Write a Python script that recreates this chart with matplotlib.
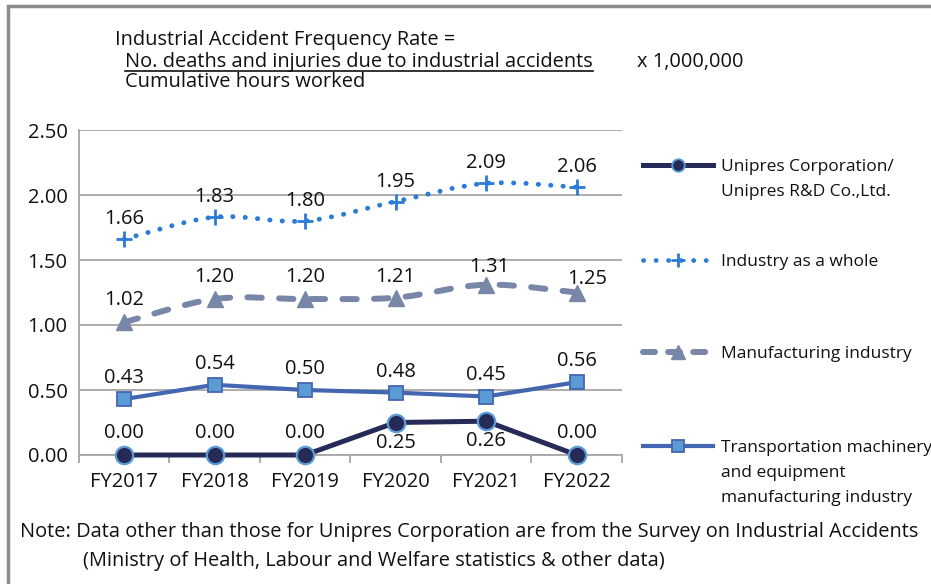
import numpy as np
import matplotlib
matplotlib.use("Agg")
import matplotlib.pyplot as plt
from matplotlib.lines import Line2D
from matplotlib.patches import PathPatch, Rectangle
from matplotlib.path import Path

plt.rcParams['font.family'] = ['Open Sans', 'DejaVu Sans']

# Data
years = ['FY2017', 'FY2018', 'FY2019', 'FY2020', 'FY2021', 'FY2022']
unipres = [0.00, 0.00, 0.00, 0.25, 0.26, 0.00]
industry = [1.66, 1.83, 1.80, 1.95, 2.09, 2.06]
manufacturing = [1.02, 1.20, 1.20, 1.21, 1.31, 1.25]
transport = [0.43, 0.54, 0.50, 0.48, 0.45, 0.56]

W, H = 931, 584
fig = plt.figure(figsize=(W / 100, H / 100), dpi=100)


def px(x, y):
    # pixel position (top-left origin) -> figure fraction
    return x / W, 1 - y / H


def smooth_path(xs, ys):
    # Excel-like smoothed line: cubic bezier through the points
    pts = np.column_stack([xs, ys]).astype(float)
    n = len(pts)
    verts = [pts[0]]
    codes = [Path.MOVETO]
    for i in range(n - 1):
        p0 = pts[i - 1] if i > 0 else pts[i]
        p1 = pts[i]
        p2 = pts[i + 1]
        p3 = pts[i + 2] if i + 2 < n else pts[i + 1]
        c1 = p1 + (p2 - p0) / 6
        c2 = p2 - (p3 - p1) / 6
        verts += [c1, c2, p2]
        codes += [Path.CURVE4] * 3
    return Path(verts, codes)


ax = fig.add_axes([78.7 / W, (H - 455) / H, (622 - 78.7) / W, 325 / H])
x = np.arange(len(years))

c_uni = '#252a56'
c_ind = '#2b7bd8'
c_man = '#7886a8'
c_tra = '#4466b0'
c_edge = '#5b9bd5'
grid_c = '#a6a6a6'

# Industry as a whole (smoothed dotted)
ax.add_patch(PathPatch(smooth_path(x, industry), fill=False, edgecolor=c_ind,
                       lw=3.5, linestyle=(0, (0.05, 2.5)), capstyle='round', zorder=3))
ax.plot(x, industry, ls='none', marker='+', ms=11, mew=2, color=c_ind, zorder=4)

# Manufacturing industry (smoothed dashed)
ax.add_patch(PathPatch(smooth_path(x, manufacturing), fill=False, edgecolor=c_man,
                       lw=4.3, linestyle=(0, (2.4, 2.9)), capstyle='round', zorder=3))
ax.plot(x, manufacturing, ls='none', marker='^', ms=11, color=c_man, zorder=4)

# Transportation machinery
ax.plot(x, transport, color=c_tra, lw=3.0, marker='s', ms=10,
        mfc=c_edge, mec=c_tra, mew=1.3, zorder=5)

# Unipres
ax.plot(x, unipres, color=c_uni, lw=3.6, marker='o', ms=12.5,
        mfc=c_uni, mec=c_edge, mew=1.6, zorder=6, clip_on=False)

lab_kw = dict(textcoords='offset pixels', ha='center', va='center', fontsize=14.5, color='#111111')
for i, v in enumerate(industry):
    ax.annotate(f'{v:.2f}', (x[i], v), xytext=(0, 20), **lab_kw)
man_off = [(0, 22), (0, 22), (0, 22), (0, 21), (3, 18), (10, 13)]
for i, v in enumerate(manufacturing):
    ax.annotate(f'{v:.2f}', (x[i], v), xytext=man_off[i], **lab_kw)
for i, v in enumerate(transport):
    ax.annotate(f'{v:.2f}', (x[i], v), xytext=(0, 21), **lab_kw)
for i, v in enumerate(unipres):
    dy = -20 if v > 0 else 22
    ax.annotate(f'{v:.2f}', (x[i], v), xytext=(0, dy), **lab_kw)

ax.set_xlim(-0.5, len(years) - 0.5)
ax.set_ylim(0, 2.5)
ax.set_yticks(np.arange(0, 2.51, 0.5))
ax.set_yticklabels([f'{t:.2f}' for t in np.arange(0, 2.51, 0.5)])
ax.set_xticks(x)
ax.set_xticklabels(years)
ax.set_xticks(np.arange(-0.5, len(years), 1), minor=True)
ax.tick_params(axis='x', which='major', length=0, labelsize=14.5, pad=12, colors='#111111')
ax.tick_params(axis='x', which='minor', length=6, width=1.3, color=grid_c)
ax.tick_params(axis='y', length=0, labelsize=14.5, pad=8, colors='#111111')
ax.grid(axis='y', color=grid_c, lw=1.3)
ax.set_axisbelow(True)
for s in ['top', 'right']:
    ax.spines[s].set_visible(False)
for s in ['left', 'bottom']:
    ax.spines[s].set_color(grid_c)
    ax.spines[s].set_linewidth(1.3)

# Legend drawn by hand
leg_font = 12.5
entries = [
    (165, dict(color=c_uni, lw=3.6), dict(marker='o', ms=9, mfc=c_uni, mec=c_edge, mew=1.3),
     'Unipres Corporation/\nUnipres R&D Co.,Ltd.'),
    (260, dict(color=c_ind, lw=3.4, ls=(0, (0.05, 2.6)), solid_capstyle='round', dash_capstyle='round'),
     dict(marker='+', ms=10, mew=2, color=c_ind), 'Industry as a whole'),
    (352, dict(color=c_man, lw=4.3, ls=(0, (2.0, 2.2)), dash_capstyle='round'),
     dict(marker='^', ms=10, color=c_man), 'Manufacturing industry'),
    (446, dict(color=c_tra, lw=3.0), dict(marker='s', ms=9, mfc=c_edge, mec=c_tra, mew=1.3),
     'Transportation machinery\nand equipment\nmanufacturing industry'),
]
for yy, lkw, mkw, label in entries:
    x0, y0 = px(643, yy)
    x1, _ = px(713, yy)
    xm, _ = px(678, yy)
    fig.add_artist(Line2D([x0, x1], [y0, y0], transform=fig.transFigure, **lkw))
    fig.add_artist(Line2D([xm], [y0], transform=fig.transFigure, ls='none', **mkw))
    tx, ty = px(721, yy - 6)
    fig.text(tx, ty, label, ha='left', va='top', fontsize=leg_font, color='#111111',
             linespacing=1.75)

# Formula header
fs = 14.4
fig.text(*px(115, 40), 'Industrial Accident Frequency Rate =', fontsize=fs, va='center', color='#111111')
num = fig.text(*px(125, 62), 'No. deaths and injuries due to industrial accidents', fontsize=fs,
               va='center', color='#111111')
fig.text(*px(125, 82), 'Cumulative hours worked', fontsize=fs, va='center', color='#111111')
fig.text(*px(637, 62), 'x 1,000,000', fontsize=fs, va='center', color='#111111')

# Notes
fig.text(*px(20, 532), 'Note: Data other than those for Unipres Corporation are from the Survey on Industrial Accidents',
         fontsize=fs, va='center', color='#111111')
fig.text(*px(83, 561), '(Ministry of Health, Labour and Welfare statistics & other data)',
         fontsize=fs, va='center', color='#111111')

# Outer frame (extends beyond the image on the right and bottom)
fx, fy = px(8, 6)
fig.add_artist(Rectangle((fx, -0.1), 1.2, fy + 0.1, transform=fig.transFigure,
                         fill=False, edgecolor='#8c8c8c', lw=2.5))

# underline below the numerator
fig.canvas.draw()
bb = num.get_window_extent()
uy = bb.y0 + 1
fig.add_artist(Line2D([bb.x0 / W, bb.x1 / W], [uy / H, uy / H], transform=fig.transFigure,
                      color='#111111', lw=1.2))

fig.savefig('out.png', dpi=100)
